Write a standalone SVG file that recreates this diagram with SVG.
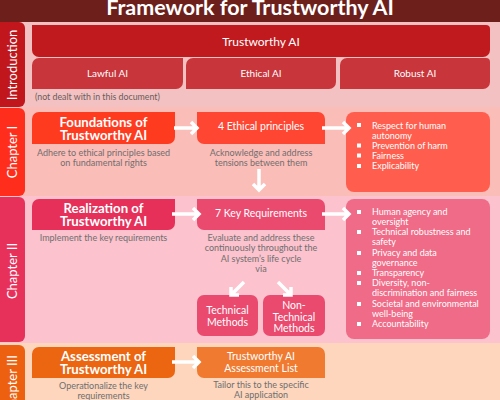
<svg xmlns="http://www.w3.org/2000/svg" width="500" height="400" viewBox="0 0 500 400">
<defs>
<style>
text{font-family:Lato,"Open Sans","Liberation Sans",sans-serif}
.tab{font-size:13px;fill:#fff;text-anchor:middle}
.big{font-size:13.2px;font-weight:bold;fill:#fff;text-anchor:middle}
.mid{font-size:10.5px;fill:#fff;text-anchor:middle}
.desc{font-size:9px;fill:#6f6f6f;text-anchor:middle}
.li{font-size:9px;fill:#fff}
.arr{stroke:#fff;stroke-width:3.5;fill:none;stroke-linecap:butt;stroke-linejoin:miter}
</style>
</defs>
<rect x="0" y="0" width="500" height="400" fill="#fcc2cd"/>
<g id="title">
<rect x="0" y="0" width="500" height="22" fill="#6d1f1c"/>
<text x="250" y="15" font-size="21.5" font-weight="bold" fill="#fff" text-anchor="middle">Framework for Trustworthy AI</text>
</g>
<g id="bands">
<rect x="0" y="22" width="500" height="85" fill="#f3c1c1"/>
<rect x="0" y="107" width="500" height="89" fill="#fbbdb8"/>
<rect x="0" y="196" width="500" height="147" fill="#fcc2cd"/>
<rect x="0" y="343" width="500" height="57" fill="#fdd6bd"/>
</g>
<g id="tab-intro">
<rect x="-10" y="22" width="35" height="85" rx="6" fill="#c0161c"/>
<text class="tab" transform="translate(16.5,65) rotate(-90)">Introduction</text>
</g>
<g id="tab-ch1">
<rect x="-10" y="108" width="35" height="88" rx="6" fill="#ff2d1c"/>
<text class="tab" transform="translate(16.5,152) rotate(-90)">Chapter I</text>
</g>
<g id="tab-ch2">
<rect x="-10" y="197" width="35" height="145" rx="6" fill="#e8315a"/>
<text class="tab" transform="translate(16.5,271) rotate(-90)">Chapter II</text>
</g>
<g id="tab-ch3">
<rect x="-10" y="345" width="35" height="70" rx="6" fill="#ec6010"/>
<text class="tab" transform="translate(16.5,385) rotate(-90)">Chapter III</text>
</g>
<g id="trustworthy-ai">
<path d="M32,25 H486 A4,4 0 0 1 490,29 V50 A7,7 0 0 1 483,57 H39 A7,7 0 0 1 32,50 Z" fill="#c0191e"/>
<text x="261" y="46" font-size="12" fill="#fff" text-anchor="middle">Trustworthy AI</text>
</g>
<g id="lawful-ai">
<path d="M39,58 H183 V82 A7,7 0 0 1 176,89 H32 V65 A7,7 0 0 1 39,58 Z" fill="#c8353a"/>
<text x="107.5" y="76.5" font-size="10" fill="#fff" text-anchor="middle">Lawful AI</text>
<text x="35" y="100" font-size="8.8" fill="#6a5c5c">(not dealt with in this document)</text>
</g>
<g id="ethical-ai">
<path d="M193,58 H336 V82 A7,7 0 0 1 329,89 H186 V65 A7,7 0 0 1 193,58 Z" fill="#c8353a"/>
<text x="261" y="76.5" font-size="10" fill="#fff" text-anchor="middle">Ethical AI</text>
</g>
<g id="robust-ai">
<path d="M347,58 H486 A4,4 0 0 1 490,62 V82 A7,7 0 0 1 483,89 H340 V65 A7,7 0 0 1 347,58 Z" fill="#c8353a"/>
<text x="415" y="76.5" font-size="10" fill="#fff" text-anchor="middle">Robust AI</text>
</g>
<g id="foundations">
<path d="M39,112 H175 V137 A7,7 0 0 1 168,144 H32 V119 A7,7 0 0 1 39,112 Z" fill="#ff3b1f"/>
<text class="big" x="103.5" y="127">Foundations of</text>
<text class="big" x="103.5" y="140">Trustworthy AI</text>
<text class="desc" x="103.5" y="155.5">Adhere to ethical principles based</text>
<text class="desc" x="103.5" y="165.5">on fundamental rights</text>
</g>
<g id="ethical-principles">
<path d="M197,112 H318 A7,7 0 0 1 325,119 V144 H204 A7,7 0 0 1 197,137 Z" fill="#ff4632"/>
<text class="mid" x="261" y="130">4 Ethical principles</text>
<text class="desc" x="261" y="155.5">Acknowledge and address</text>
<text class="desc" x="261" y="165.5">tensions between them</text>
</g>
<g id="principles-list">
<rect x="346" y="112" width="144" height="80" rx="8" fill="#ff5e4f"/>
<rect x="357" y="123" width="4" height="4" fill="#fff"/>
<rect x="357" y="143.5" width="4" height="4" fill="#fff"/>
<rect x="357" y="153.5" width="4" height="4" fill="#fff"/>
<rect x="357" y="164" width="4" height="4" fill="#fff"/>
<text class="li" x="372" y="128.5">Respect for human</text>
<text class="li" x="372" y="138.5">autonomy</text>
<text class="li" x="372" y="148.5">Prevention of harm</text>
<text class="li" x="372" y="158.5">Fairness</text>
<text class="li" x="372" y="169">Explicability</text>
</g>
<g id="realization">
<path d="M39,199 H175 V223 A7,7 0 0 1 168,230 H32 V206 A7,7 0 0 1 39,199 Z" fill="#e6305a"/>
<text class="big" x="103.5" y="213">Realization of</text>
<text class="big" x="103.5" y="226">Trustworthy AI</text>
<text class="desc" x="103.5" y="241">Implement the key requirements</text>
</g>
<g id="key-requirements">
<path d="M197,199 H318 A7,7 0 0 1 325,206 V230 H204 A7,7 0 0 1 197,223 Z" fill="#eb4a6f"/>
<text class="mid" x="261" y="217">7 Key Requirements</text>
<text class="desc" x="261" y="240.5">Evaluate and address these</text>
<text class="desc" x="261" y="251">continuously throughout the</text>
<text class="desc" x="261" y="261.5">AI system’s life cycle</text>
<text class="desc" x="261" y="272">via</text>
</g>
<g id="technical-methods">
<rect x="197" y="295" width="61" height="41" rx="7" fill="#eb4a6f"/>
<text class="mid" x="227.5" y="314">Technical</text>
<text class="mid" x="227.5" y="326">Methods</text>
</g>
<g id="non-technical-methods">
<rect x="263" y="295" width="62" height="41" rx="7" fill="#eb4a6f"/>
<text class="mid" x="294" y="309">Non-</text>
<text class="mid" x="294" y="320.5">Technical</text>
<text class="mid" x="294" y="332">Methods</text>
</g>
<g id="requirements-list">
<rect x="346" y="199" width="144" height="140" rx="8" fill="#ef6b87"/>
<rect x="357" y="210" width="4" height="4" fill="#fff"/>
<rect x="357" y="230" width="4" height="4" fill="#fff"/>
<rect x="357" y="251" width="4" height="4" fill="#fff"/>
<rect x="357" y="271" width="4" height="4" fill="#fff"/>
<rect x="357" y="281" width="4" height="4" fill="#fff"/>
<rect x="357" y="302" width="4" height="4" fill="#fff"/>
<rect x="357" y="322" width="4" height="4" fill="#fff"/>
<text class="li" x="372" y="215">Human agency and</text>
<text class="li" x="372" y="225">oversight</text>
<text class="li" x="372" y="235">Technical robustness and</text>
<text class="li" x="372" y="245">safety</text>
<text class="li" x="372" y="256">Privacy and data</text>
<text class="li" x="372" y="266">governance</text>
<text class="li" x="372" y="276">Transparency</text>
<text class="li" x="372" y="286">Diversity, non-</text>
<text class="li" x="372" y="296">discrimination and fairness</text>
<text class="li" x="372" y="307">Societal and environmental</text>
<text class="li" x="372" y="317">well-being</text>
<text class="li" x="372" y="327">Accountability</text>
</g>
<g id="assessment">
<path d="M39,347 H175 V371 A7,7 0 0 1 168,378 H32 V354 A7,7 0 0 1 39,347 Z" fill="#ec6510"/>
<text class="big" x="103.5" y="361">Assessment of</text>
<text class="big" x="103.5" y="374">Trustworthy AI</text>
<text class="desc" x="103.5" y="388.5">Operationalize the key</text>
<text class="desc" x="103.5" y="399">requirements</text>
</g>
<g id="assessment-list">
<path d="M197,347 H318 A7,7 0 0 1 325,354 V378 H204 A7,7 0 0 1 197,371 Z" fill="#f07a30"/>
<text class="mid" x="261" y="360">Trustworthy AI</text>
<text class="mid" x="261" y="372">Assessment List</text>
<text class="desc" x="261" y="387.5">Tailor this to the specific</text>
<text class="desc" x="261" y="398">AI application</text>
</g>
<g id="connectors" class="arr">
<path d="M174,128 H197 M191,122 L197,128 L191,134"/>
<path d="M322,128 H349 M343,122 L349,128 L343,134"/>
<path d="M259,169 V190 M253,184 L259,190 L265,184"/>
<path d="M172,214 H199 M193,208 L199,214 L193,220"/>
<path d="M322,214 H349 M343,208 L349,214 L343,220"/>
<path d="M244,282 L231,295 M231,287 V295 H239"/>
<path d="M278,282 L291,295 M291,287 V295 H283"/>
<path d="M172,362 H199 M193,356 L199,362 L193,368"/>
</g>
</svg>
